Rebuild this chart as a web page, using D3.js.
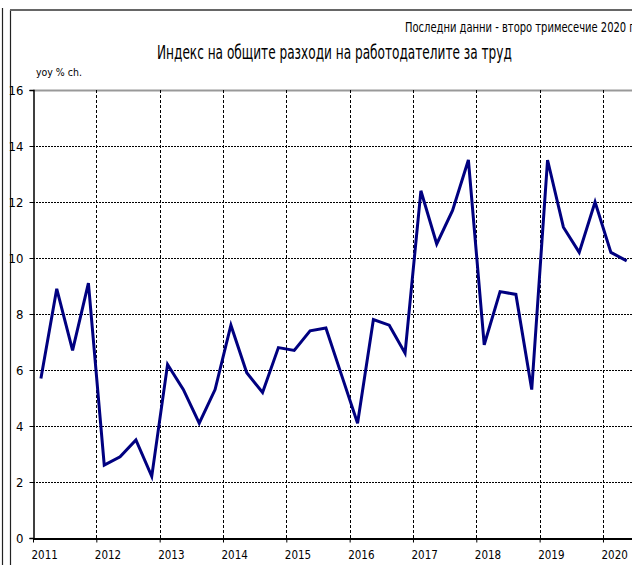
<!DOCTYPE html>
<html>
<head>
<meta charset="utf-8">
<script src="https://cdn.jsdelivr.net/npm/d3@7"></script>
<style>
  body { margin: 0; background: #fff; }
  svg { display: block; }
  text { font-family: "DejaVu Sans Condensed", "DejaVu Sans", sans-serif; font-stretch: condensed; fill: #000; }
</style>
</head>
<body>
<div id="chart"></div>
<script>
// тримесечни данни, yoy % ch.
var years = [2011, 2012, 2013, 2014, 2015, 2016, 2017, 2018, 2019, 2020];
var values = [
    5.7, 8.9, 6.7, 9.1,
    2.6, 2.9, 3.5, 2.2,
    6.2, 5.3, 4.1, 5.3,
    7.6, 5.9, 5.2, 6.8,
    6.7, 7.4, 7.5, 5.8,
    4.1, 7.8, 7.6, 6.6,
    12.4, 10.5, 11.7, 13.5,
    6.9, 8.8, 8.7, 5.3,
    13.5, 11.1, 10.2, 12.0,
    10.2, 9.9
];
var yTicks = [0, 2, 4, 6, 8, 10, 12, 14, 16];

var title = "Индекс на общите разходи на работодателите за труд";
var subtitle = "Последни данни - второ тримесечие 2020 г.";
var yLabel = "yoy % ch.";

var width = 632, height = 565;

var svg = d3.select("#chart").append("svg")
    .attr("width", width)
    .attr("height", height);

// рамка
svg.append("line").attr("x1", 2.5).attr("x2", 2.5).attr("y1", 8).attr("y2", height)
    .attr("stroke", "#222").attr("stroke-width", 1.2);
svg.append("line").attr("x1", 10.5).attr("x2", 10.5).attr("y1", 10).attr("y2", height)
    .attr("stroke", "#222").attr("stroke-width", 1.2);
svg.append("line").attr("x1", 10).attr("x2", width).attr("y1", 10).attr("y2", 10)
    .attr("stroke", "#666").attr("stroke-width", 2);

var x = d3.scaleLinear()
    .domain([2011, 2021])
    .range([33, 33 + 63.33 * 10]);
var y = d3.scaleLinear()
    .domain([0, 16])
    .range([538, 90]);

var data = values.map(function (v, i) {
    return { t: years[0] + (i + 0.5) / 4, v: v };
});

// хоризонтална мрежа
svg.append("g").selectAll("line")
    .data(yTicks.filter(function (d) { return d > 0 && d < 16; }))
    .enter().append("line")
    .attr("x1", x(2011)).attr("x2", width)
    .attr("y1", function (d) { return Math.round(y(d)) + 0.5; })
    .attr("y2", function (d) { return Math.round(y(d)) + 0.5; })
    .attr("stroke", "#000")
    .attr("stroke-width", 1)
    .attr("stroke-dasharray", "2,1");

// горна линия
svg.append("line")
    .attr("x1", x(2011)).attr("x2", width)
    .attr("y1", y(16) + 0.5).attr("y2", y(16) + 0.5)
    .attr("stroke", "#999").attr("stroke-width", 2);

// вертикална мрежа
svg.append("g").selectAll("line")
    .data(years.slice(1))
    .enter().append("line")
    .attr("x1", function (d) { return Math.round(x(d)) + 0.5; })
    .attr("x2", function (d) { return Math.round(x(d)) + 0.5; })
    .attr("y1", y(16)).attr("y2", y(0))
    .attr("stroke", "#000")
    .attr("stroke-width", 1)
    .attr("stroke-dasharray", "3,2");

// оси
var yAxis = d3.axisLeft(y).tickValues(yTicks).tickSize(4).tickPadding(6);
var gy = svg.append("g")
    .attr("transform", "translate(" + (x(2011) + 0.5) + ",0)")
    .call(yAxis);
gy.select(".domain").attr("stroke", "#000").attr("stroke-width", 1.5);
gy.selectAll("text").attr("font-size", 13).style("font-family", "\"DejaVu Sans Condensed\", sans-serif");

var xAxis = d3.axisBottom(x).tickValues(years).tickSize(4).tickFormat(d3.format("d")).tickSizeOuter(0);
var gx = svg.append("g")
    .attr("transform", "translate(0," + (y(0) + 0.5) + ")")
    .call(xAxis);
gx.select(".domain").attr("stroke", "#000").attr("stroke-width", 2);
gx.selectAll("text")
    .attr("font-size", 11.5)
    .attr("text-anchor", "start")
    .attr("dx", -2)
    .attr("y", 12)
    .style("font-family", "\"DejaVu Sans Condensed\", sans-serif");

// линия
var line = d3.line()
    .x(function (d) { return x(d.t); })
    .y(function (d) { return y(d.v); });

svg.append("path")
    .datum(data)
    .attr("d", line)
    .attr("fill", "none")
    .attr("stroke", "#000080")
    .attr("stroke-width", 3)
    .attr("stroke-linejoin", "miter");

// текстове - свити хоризонтално до ширината от оригинала
function squeezed(txt, x0, y0, size, w) {
    var t = svg.append("text")
        .attr("font-size", size)
        .text(txt);
    var natural = t.node().getComputedTextLength();
    var k = w / natural;
    t.attr("transform", "translate(" + x0 + "," + y0 + ") scale(" + k + ",1)");
    return t;
}

squeezed(subtitle, 405, 32, 14, 233);
squeezed(title, 157, 59, 19, 355);
squeezed(yLabel, 36, 76, 11, 46);
</script>
</body>
</html>
